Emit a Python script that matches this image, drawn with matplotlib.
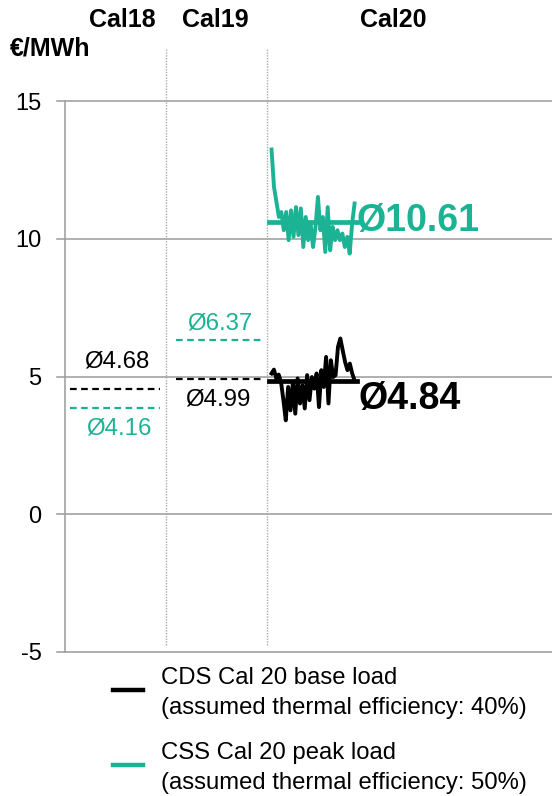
import matplotlib
matplotlib.use("Agg")
import matplotlib.pyplot as plt
import numpy as np
from matplotlib.lines import Line2D

plt.rcParams['font.family'] = ['Liberation Sans', 'DejaVu Sans']

# ---- data ----
periods = ["Cal18", "Cal19", "Cal20"]
css_cal20 = [13.24, 11.88, 11.34, 10.79, 10.97, 10.31, 10.97, 9.95, 11.03, 10.07,
             11.15, 10.13, 11.10, 9.70, 10.79, 9.95, 10.55, 9.70, 10.43, 11.52,
             10.31, 10.79, 9.52, 11.15, 9.58, 10.43, 9.95, 10.31, 9.95, 10.19,
             9.70, 10.07, 9.46, 10.55, 11.28]
cds_cal20 = [5.11, 5.25, 4.93, 5.07, 4.80, 4.14, 3.41, 4.62, 3.77, 4.80,
             3.65, 4.93, 4.02, 4.68, 3.84, 5.05, 4.14, 4.98, 4.56, 5.11,
             3.89, 5.23, 4.62, 5.71, 4.02, 5.59, 4.98, 5.05, 6.07, 6.38,
             5.95, 5.53, 5.23, 5.47, 5.11, 4.86]
cds_mean_cal20 = 4.84
css_mean_cal20 = 10.61
cds_means = [4.56, 4.92]          # drawn levels Cal18, Cal19
css_means = [3.84, 6.32]
cds_labels = ["Ø4.68", "Ø4.99"]
css_labels = ["Ø4.16", "Ø6.37"]
yticks = [-5, 0, 5, 10, 15]
legend_labels = [["CDS Cal 20 base load", "(assumed thermal efficiency: 40%)"],
                 ["CSS Cal 20 peak load", "(assumed thermal efficiency: 50%)"]]

BLACK = "#000000"
GREEN = "#1BB394"
GRID = "#9a9a9a"

W, H = 552, 796
fig = plt.figure(figsize=(W / 100, H / 100), dpi=100)
ax = fig.add_axes([65 / W, 1 - 652 / H, 1 - 65 / W, (652 - 101) / H])
ax.set_xlim(0, 4.81)
ax.set_ylim(-5, 15)

# gridlines with left extension
for t in yticks:
    ax.plot([-0.08, 4.81], [t, t], color=GRID, lw=1.1, clip_on=False, zorder=1)
ax.set_yticks(yticks)
ax.set_yticklabels([str(t) for t in yticks], fontsize=17)
ax.tick_params(axis='y', length=0, pad=17)
ax.set_xticks([])
for s in ["top", "right", "bottom"]:
    ax.spines[s].set_visible(False)
ax.spines["left"].set_color(GRID)
ax.spines["left"].set_linewidth(1.1)

# dividers
for xd in [1.0, 2.0]:
    ax.plot([xd, xd], [-4.75, 16.9], color="#aaaaaa", lw=1.0, ls=(0, (1, 1)),
            clip_on=False, zorder=1)

# Cal18 / Cal19 dashed mean lines
seg = [(0.05, 0.94), (1.10, 1.97)]
for i in range(2):
    ax.plot(seg[i], [cds_means[i]] * 2, color=BLACK, lw=1.6, ls=(0, (3, 2)), zorder=3)
    ax.plot(seg[i], [css_means[i]] * 2, color=GREEN, lw=1.6, ls=(0, (3, 2)), zorder=3)

ax.text(0.51, 5.54, cds_labels[0], ha="center", va="center", fontsize=17.3, color=BLACK)
ax.text(0.53, 3.11, css_labels[0], ha="center", va="center", fontsize=17.3, color=GREEN)
ax.text(1.53, 6.93, css_labels[1], ha="center", va="center", fontsize=17.3, color=GREEN)
ax.text(1.51, 4.17, cds_labels[1], ha="center", va="center", fontsize=17.3, color=BLACK)

# Cal20 series
xg = np.linspace(2.04, 2.86, len(css_cal20))
xb = np.linspace(2.04, 2.86, len(cds_cal20))
ax.plot(xg, css_cal20, color=GREEN, lw=2.8, zorder=4, solid_joinstyle="round")
ax.plot(xb, cds_cal20, color=BLACK, lw=2.8, zorder=4, solid_joinstyle="round")
ax.plot([2.01, 2.88], [css_mean_cal20] * 2, color=GREEN, lw=3.4, zorder=5)
ax.plot([2.01, 2.88], [cds_mean_cal20] * 2, color=BLACK, lw=3.4, zorder=5)
ax.text(2.88, css_mean_cal20 + 0.05, "Ø%.2f" % css_mean_cal20, ha="left", va="center",
        fontsize=27, fontweight="bold", color=GREEN)
ax.text(2.90, cds_mean_cal20 - 0.67, "Ø%.2f" % cds_mean_cal20, ha="left", va="center",
        fontsize=27, fontweight="bold", color=BLACK)

# headers
hx = [122, 215, 393]
for p, x in zip(periods, hx):
    fig.text(x / W, 1 - 20 / H, p, ha="center", va="center", fontsize=18, fontweight="bold")
fig.text(10 / W, 1 - 48 / H, "€/MWh", ha="left", va="center", fontsize=18, fontweight="bold")

# legend
entries = [(BLACK, 690, (678, 708)), (GREEN, 765, (753, 783))]
for (col, ym, ys), lines in zip(entries, legend_labels):
    fig.add_artist(Line2D([113 / W, 143 / W], [1 - ym / H] * 2, color=col, lw=3.2,
                          transform=fig.transFigure))
    for yl, txt in zip(ys, lines):
        fig.text(161 / W, 1 - yl / H, txt, ha="left", va="center", fontsize=17.2)

fig.savefig("out.png", dpi=100)
